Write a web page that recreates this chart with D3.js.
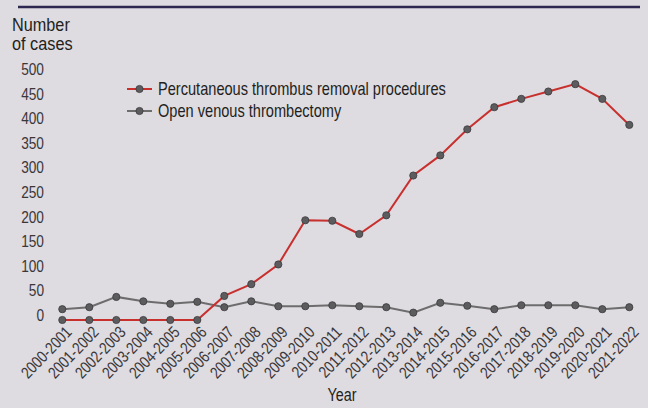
<!DOCTYPE html>
<html>
<head>
<meta charset="utf-8">
<script src="https://cdn.jsdelivr.net/npm/d3@7"></script>
<style>
  html, body { margin: 0; padding: 0; background: #dedbe1; }
  svg { display: block; font-family: "Liberation Sans", Arial, sans-serif; }
</style>
</head>
<body>
<script>
var years = ['2000-2001', '2001-2002', '2002-2003', '2003-2004', '2004-2005', '2005-2006',
  '2006-2007', '2007-2008', '2008-2009', '2009-2010', '2010-2011', '2011-2012', '2012-2013',
  '2013-2014', '2014-2015', '2015-2016', '2016-2017', '2017-2018', '2018-2019', '2019-2020',
  '2020-2021', '2021-2022'];
var percutaneous = [0, 0, 0, 0, 0, 0, 49, 73, 113, 203, 202, 175, 213, 294, 335, 388, 433, 450, 465, 480, 450, 397];
var openVenous = [22, 26, 47, 38, 33, 37, 26, 38, 28, 28, 30, 28, 26, 15, 35, 29, 22, 30, 30, 30, 22, 26];
var yTicks = [0, 50, 100, 150, 200, 250, 300, 350, 400, 450, 500];
var seriesNames = ['Percutaneous thrombus removal procedures', 'Open venous thrombectomy'];

(function () {
  'use strict';
  var width = 648,
    height = 408,
    narrow = 'scale(0.82,1)',
    svg, x, y, series;

  svg = d3.select('body').append('svg')
    .attr('width', width)
    .attr('height', height);

  svg.append('rect')
    .attr('width', width)
    .attr('height', height)
    .attr('fill', '#dedbe1');

  // top rule
  svg.append('line')
    .attr('x1', 18).attr('x2', 640)
    .attr('y1', 7).attr('y2', 7)
    .attr('stroke', '#2d2850')
    .attr('stroke-width', 2.5);

  x = d3.scalePoint().domain(years).range([62.3, 629.3]);
  y = d3.scaleLinear().domain([0, 500]).range([320, 74.3]);

  // condensed text helper: position with a group, squeeze the text
  function label(px, py, str, size, anchor, squeeze) {
    return svg.append('g')
      .attr('transform', 'translate(' + px + ',' + py + ')')
      .append('text')
      .attr('transform', squeeze || narrow)
      .attr('font-size', size)
      .attr('text-anchor', anchor || 'start')
      .attr('fill', '#231f20')
      .text(str);
  }

  // y title
  label(12, 30.7, 'Number', 18.7, 'start', 'scale(0.87,1)');
  label(12, 50, 'of cases', 18.7, 'start', 'scale(0.87,1)');

  // y axis labels (no axis line)
  var yAxis = svg.append('g')
    .attr('transform', 'translate(44,-5)')
    .call(d3.axisLeft(y).tickValues(yTicks).tickSize(0).tickPadding(0));
  yAxis.select('.domain').remove();
  yAxis.attr('font-family', null);
  yAxis.selectAll('text')
    .attr('x', 0)
    .attr('transform', narrow)
    .attr('font-size', 16.7)
    .attr('fill', '#3a3739');

  // x axis labels
  var xAxis = svg.append('g')
    .attr('transform', 'translate(0,330)')
    .call(d3.axisBottom(x).tickSize(0).tickPadding(0));
  xAxis.select('.domain').remove();
  xAxis.attr('font-family', null);
  xAxis.selectAll('text')
    .attr('font-size', 16.5)
    .attr('fill', '#3a3739')
    .attr('text-anchor', 'end')
    .attr('dy', null)
    .attr('y', 0)
    .attr('transform', 'translate(10,3) rotate(-46) ' + narrow);

  label(342, 401, 'Year', 17.5, 'middle');

  series = [
    { name: seriesNames[0], values: percutaneous, color: '#c8302e' },
    { name: seriesNames[1], values: openVenous, color: '#6e6d6e' }
  ];

  var line = d3.line()
    .x(function (d, i) { return x(years[i]); })
    .y(function (d) { return y(d); });

  // draw gray series first so red is on top
  series.slice().reverse().forEach(function (s) {
    svg.append('path')
      .datum(s.values)
      .attr('d', line)
      .attr('fill', 'none')
      .attr('stroke', s.color)
      .attr('stroke-width', 2);
  });

  series.slice().reverse().forEach(function (s) {
    svg.append('g').selectAll('circle')
      .data(s.values)
      .enter()
      .append('circle')
      .attr('cx', function (d, i) { return x(years[i]); })
      .attr('cy', function (d) { return y(d); })
      .attr('r', 3.6)
      .attr('fill', '#5c5b5d')
      .attr('stroke', '#3b3a3c')
      .attr('stroke-width', 0.8);
  });

  // legend
  var legend = svg.append('g').selectAll('g')
    .data(series)
    .enter()
    .append('g')
    .attr('transform', function (d, i) { return 'translate(127,' + (89 + i * 22) + ')'; });

  legend.append('line')
    .attr('x1', 0).attr('x2', 25)
    .attr('stroke', function (d) { return d.color; })
    .attr('stroke-width', 2);
  legend.append('circle')
    .attr('cx', 12.5)
    .attr('r', 3.6)
    .attr('fill', '#5c5b5d')
    .attr('stroke', '#3b3a3c')
    .attr('stroke-width', 0.8);
  legend.append('g')
    .attr('transform', 'translate(31,0)')
    .append('text')
    .attr('transform', narrow)
    .attr('dy', '0.35em')
    .attr('font-size', 17.8)
    .attr('fill', '#231f20')
    .text(function (d) { return d.name; });
}());
</script>
</body>
</html>
